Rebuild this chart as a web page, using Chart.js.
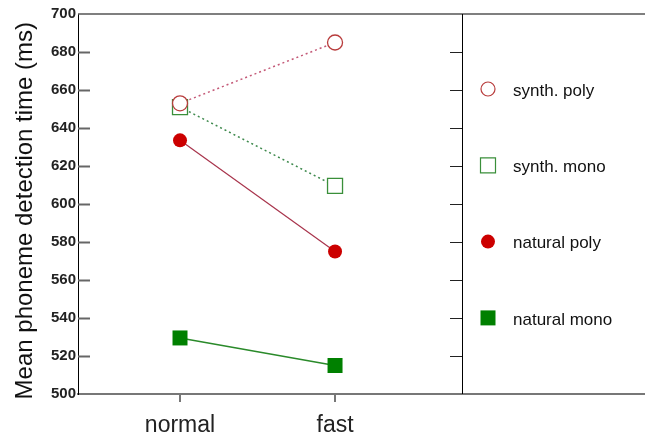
<!DOCTYPE html>
<html>
<head>
<meta charset="utf-8">
<script src="https://cdn.jsdelivr.net/npm/chart.js@4/dist/chart.umd.min.js"></script>
<style>
  html, body { margin: 0; padding: 0; background: #fff; }
  #wrap { width: 645px; height: 439px; }
</style>
</head>
<body>
<div id="wrap"><canvas id="chart" width="645" height="439"></canvas></div>
<script>
// data
const categories = ['normal', 'fast'];
const categoryPos = [1, 2];
const seriesNames = ['synth. poly', 'synth. mono', 'natural poly', 'natural mono'];
const synthPoly = [653, 685];
const synthMono = [651, 609.5];
const naturalPoly = [633.5, 575];
const naturalMono = [529.5, 515];
const yMin = 500, yMax = 700, yStep = 20;

const FONT = "'Liberation Sans', Arial, sans-serif";

function pts(vals) {
    return vals.map((v, i) => ({ x: categoryPos[i], y: v }));
}

const datasets = [
    {
        label: seriesNames[0], data: pts(synthPoly),
        borderColor: '#c45a78', borderWidth: 1.5, borderDash: [2, 3],
        pointStyle: 'circle', pointRadius: 7.5, pointBorderWidth: 1.3,
        pointBorderColor: '#b83c3c', pointBackgroundColor: '#ffffff'
    },
    {
        label: seriesNames[1], data: pts(synthMono),
        borderColor: '#3f8a4e', borderWidth: 1.5, borderDash: [2, 3],
        pointStyle: 'rect', pointRadius: 10.6, pointBorderWidth: 1.3,
        pointBorderColor: '#3a8f3a', pointBackgroundColor: '#ffffff'
    },
    {
        label: seriesNames[2], data: pts(naturalPoly),
        borderColor: '#a8344c', borderWidth: 1.2,
        pointStyle: 'circle', pointRadius: 7, pointBorderWidth: 0,
        pointBorderColor: '#cc0000', pointBackgroundColor: '#cc0000'
    },
    {
        label: seriesNames[3], data: pts(naturalMono),
        borderColor: '#2a8a2a', borderWidth: 1.5,
        pointStyle: 'rect', pointRadius: 10.6, pointBorderWidth: 0,
        pointBorderColor: '#008000', pointBackgroundColor: '#008000'
    }
];

// frame lines, inner ticks and the side legend
const framePlugin = {
    id: 'frame',
    afterDraw(chart) {
        const ctx = chart.ctx;
        const a = chart.chartArea;
        const y = chart.scales.y;
        const W = chart.width;
        ctx.save();
        // top line
        ctx.strokeStyle = '#555';
        ctx.lineWidth = 1.5;
        ctx.beginPath();
        ctx.moveTo(a.left, a.top);
        ctx.lineTo(W, a.top);
        ctx.stroke();
        // bottom extension
        ctx.strokeStyle = '#777';
        ctx.lineWidth = 2;
        ctx.beginPath();
        ctx.moveTo(a.right, a.bottom);
        ctx.lineTo(W, a.bottom);
        ctx.stroke();
        // right divider
        ctx.strokeStyle = '#000';
        ctx.lineWidth = 1;
        ctx.beginPath();
        ctx.moveTo(a.right + 0.5, a.top);
        ctx.lineTo(a.right + 0.5, a.bottom);
        ctx.stroke();
        // inner ticks
        y.ticks.forEach(t => {
            if (t.value === yMin || t.value === yMax) return;
            const py = Math.round(y.getPixelForValue(t.value)) + 0.5;
            ctx.strokeStyle = '#666';
            ctx.lineWidth = 2;
            ctx.beginPath();
            ctx.moveTo(a.left, py);
            ctx.lineTo(a.left + 12, py);
            ctx.stroke();
            ctx.strokeStyle = '#222';
            ctx.lineWidth = 1;
            ctx.beginPath();
            ctx.moveTo(a.right - 12, py);
            ctx.lineTo(a.right, py);
            ctx.stroke();
        });
        // legend
        const mx = a.right + 26;
        chart.data.datasets.forEach((ds, i) => {
            const ly = a.top + 75 + i * 76.3;
            ctx.beginPath();
            if (ds.pointStyle === 'circle') {
                ctx.arc(mx, ly, 7, 0, Math.PI * 2);
            } else {
                ctx.rect(mx - 7.5, ly - 7.5, 15, 15);
            }
            if (ds.pointBorderWidth > 0) {
                ctx.fillStyle = '#fff';
                ctx.fill();
                ctx.strokeStyle = ds.pointBorderColor;
                ctx.lineWidth = 1.2;
                ctx.stroke();
            } else {
                ctx.fillStyle = ds.pointBackgroundColor;
                ctx.fill();
            }
            ctx.fillStyle = '#111';
            ctx.font = '17px ' + FONT;
            ctx.textBaseline = 'middle';
            ctx.textAlign = 'left';
            ctx.fillText(ds.label, mx + 25, ly + 2);
        });
        ctx.restore();
    }
};

new Chart(document.getElementById('chart'), {
    type: 'line',
    data: { datasets },
    options: {
        responsive: false,
        animation: false,
        devicePixelRatio: 1,
        layout: { padding: { top: 14, right: 183, left: 0, bottom: 0 } },
        plugins: { legend: { display: false }, tooltip: { enabled: false } },
        scales: {
            x: {
                type: 'linear',
                min: 0.342,
                max: 2.819,
                afterBuildTicks: s => { s.ticks = categoryPos.map(v => ({ value: v })); },
                afterFit: s => { s.height = 45; },
                ticks: {
                    autoSkip: false,
                    maxRotation: 0,
                    padding: 10,
                    color: '#222',
                    font: { family: FONT, size: 23 },
                    callback: v => categories[categoryPos.indexOf(v)] || ''
                },
                grid: { drawOnChartArea: false, drawTicks: true, tickLength: 8, color: '#777', lineWidth: 2 },
                border: { display: true, color: '#777', width: 2 }
            },
            y: {
                min: yMin,
                max: yMax,
                afterFit: s => { s.width = 78; },
                ticks: {
                    stepSize: yStep,
                    padding: 2,
                    color: '#222',
                    font: { family: FONT, size: 15, weight: 'bold' }
                },
                grid: { display: false, drawTicks: false },
                border: { display: true, color: '#000', width: 1 },
                title: {
                    display: true,
                    text: 'Mean phoneme detection time (ms)  ',
                    color: '#111',
                    padding: { top: 11 },
                    font: { family: FONT, size: 24 }
                }
            }
        }
    },
    plugins: [framePlugin]
});
</script>
</body>
</html>
